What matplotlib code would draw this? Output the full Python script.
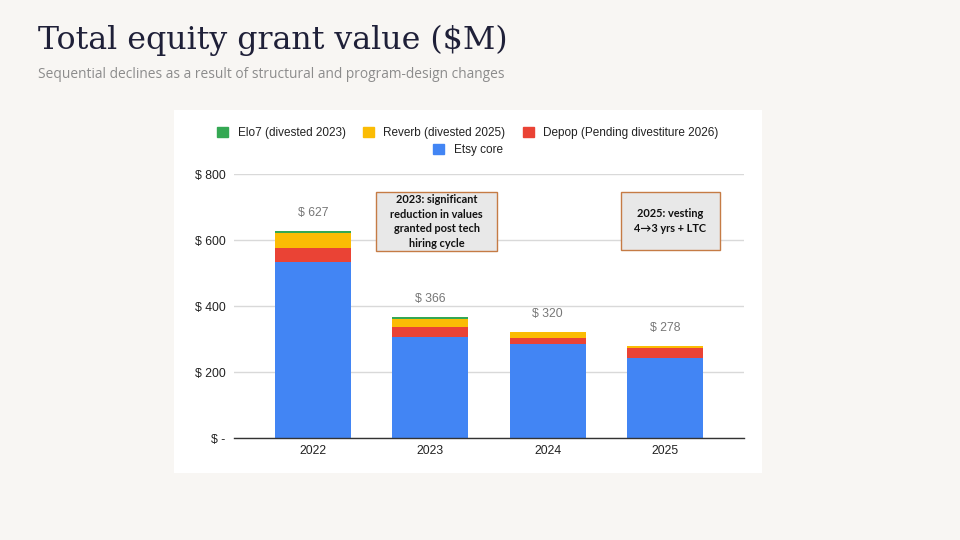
import matplotlib
matplotlib.use("Agg")
import matplotlib.pyplot as plt
from matplotlib.patches import Rectangle, Patch

years = ["2022", "2023", "2024", "2025"]
etsy_core = [534, 306, 286, 242]
depop = [42, 31, 18, 30]
reverb = [46, 25, 16, 6]
elo7 = [5, 4, 0, 0]
totals = [627, 366, 320, 278]
ytick_vals = [0, 200, 400, 600, 800]
ytick_labels = ["$ -", "$ 200", "$ 400", "$ 600", "$ 800"]

C_BLUE = "#4285F4"
C_RED = "#EA4335"
C_YEL = "#FBBC04"
C_GRN = "#34A853"

W, H = 960, 540
fig = plt.figure(figsize=(9.6, 5.4), dpi=100)
fig.patch.set_facecolor("#f8f6f3")

def fx(x): return x / W
def fy(y): return 1 - y / H

# white chart panel
fig.patches.append(Rectangle((fx(174), fy(473)), fx(762) - fx(174), fy(110) - fy(473),
                             transform=fig.transFigure, facecolor="white", edgecolor="none", zorder=-10))

fig.text(fx(38), fy(40), "Total equity grant value ($M)", fontsize=22.8, family="DejaVu Serif",
         color="#1f2038", va="center", ha="left")
fig.text(fx(38), fy(75), "Sequential declines as a result of structural and program-design changes",
         fontsize=9.9, family="Open Sans", color="#8c8c8c", va="center", ha="left")

ax = fig.add_axes([fx(234), fy(438), fx(744) - fx(234), fy(174) - fy(438)])
ax.set_zorder(1)
ax.set_facecolor("white")
x = list(range(len(years)))
bw = 0.65
ax.bar(x, etsy_core, bw, color=C_BLUE, zorder=3)
bottom2 = [a for a in etsy_core]
ax.bar(x, depop, bw, bottom=bottom2, color=C_RED, zorder=3)
bottom3 = [a + b for a, b in zip(etsy_core, depop)]
ax.bar(x, reverb, bw, bottom=bottom3, color=C_YEL, zorder=3)
bottom4 = [a + b + c for a, b, c in zip(etsy_core, depop, reverb)]
ax.bar(x, elo7, bw, bottom=bottom4, color=C_GRN, zorder=3)

for xi, t in zip(x, totals):
    ax.annotate(f"$ {t}", (xi, t), xytext=(0, 9), textcoords="offset points",
                ha="center", va="bottom", fontsize=8.8, family="Liberation Sans", color="#777777")

ax.set_xlim(-0.673, 3.673)
ax.set_ylim(0, 800)
ax.set_yticks(ytick_vals)
ax.set_yticklabels(ytick_labels)
ax.set_xticks(x)
ax.set_xticklabels(years)
ax.tick_params(axis="both", length=0, labelsize=8.8, colors="#222222")
ax.tick_params(axis="y", pad=6)
ax.tick_params(axis="x", pad=5)
for lbl in ax.get_xticklabels() + ax.get_yticklabels():
    lbl.set_family("Liberation Sans")
    lbl.set_color("#222222")
ax.grid(axis="y", color="#d9d9d9", linewidth=1, zorder=0)
for s in ["top", "right", "left"]:
    ax.spines[s].set_visible(False)
ax.spines["bottom"].set_color("#333333")
ax.spines["bottom"].set_linewidth(1)
ax.spines["bottom"].set_zorder(4)

# legends
h1 = [Patch(color=C_GRN, label="Elo7 (divested 2023)"),
      Patch(color=C_YEL, label="Reverb (divested 2025)"),
      Patch(color=C_RED, label="Depop (Pending divestiture 2026)")]
h2 = [Patch(color=C_BLUE, label="Etsy core")]
lp = dict(frameon=False, prop={"family": "Liberation Sans", "size": 8.5}, handlelength=0.9,
          handleheight=0.9, handletextpad=0.8, columnspacing=1.5, labelcolor="#222222")
fig.legend(handles=h1, ncol=3, loc="center", bbox_to_anchor=(fx(468), fy(133)), **lp)
fig.legend(handles=h2, ncol=1, loc="center", bbox_to_anchor=(fx(468), fy(150)), **lp)

# annotation boxes
def box(x0, y0, x1, y1, lines):
    fig.patches.append(Rectangle((fx(x0), fy(y1)), fx(x1) - fx(x0), fy(y0) - fy(y1),
                                 transform=fig.transFigure, facecolor="#e8e8e8",
                                 edgecolor="#c57b45", linewidth=1, zorder=5))
    n = len(lines)
    cy = (y0 + y1) / 2
    step = 14.5
    for i, ln in enumerate(lines):
        yy = cy + (i - (n - 1) / 2) * step
        fig.text(fx((x0 + x1) / 2), fy(yy), ln, ha="center", va="center", fontsize=7.9,
                 fontweight="bold", family=["Lato", "DejaVu Sans"], color="#111111", zorder=6)

box(376, 192, 497, 251, ["2023: significant", "reduction in values", "granted post tech", "hiring cycle"])
box(621, 192, 720, 250, ["2025: vesting", "4\u21923 yrs + LTC"])

fig.savefig("out.png", dpi=100, facecolor=fig.get_facecolor())
